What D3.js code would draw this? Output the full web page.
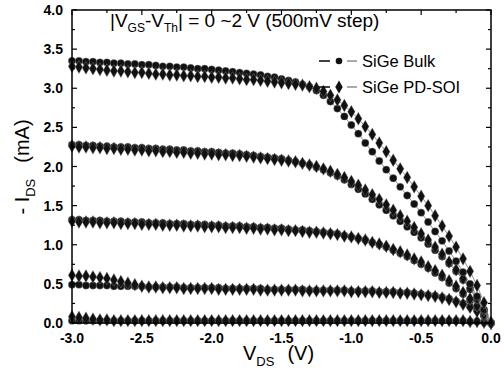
<!DOCTYPE html>
<html>
<head>
<meta charset="utf-8">
<script src="https://cdn.jsdelivr.net/npm/d3@7"></script>
<style>
  body { margin: 0; background: #fff; }
  text { font-family: Arial, "Liberation Sans", Helvetica, sans-serif; }
</style>
</head>
<body>
<script>
// drain voltage sweep (V)
const vds = [-3.00,-2.95,-2.90,-2.85,-2.80,-2.75,-2.70,-2.65,-2.60,-2.55,
  -2.50,-2.45,-2.40,-2.35,-2.30,-2.25,-2.20,-2.15,-2.10,-2.05,
  -2.00,-1.95,-1.90,-1.85,-1.80,-1.75,-1.70,-1.65,-1.60,-1.55,
  -1.50,-1.45,-1.40,-1.35,-1.30,-1.25,-1.20,-1.15,-1.10,-1.05,
  -1.00,-0.95,-0.90,-0.85,-0.80,-0.75,-0.70,-0.65,-0.60,-0.55,
  -0.50,-0.45,-0.40,-0.35,-0.30,-0.25,-0.20,-0.15,-0.10,-0.05,
  0.00];

// SiGe bulk, -IDS (mA), |VGS-Vth| = 2.0, 1.5, 1.0, 0.5, 0 V
const bulk20 = [3.35,3.35,3.34,3.34,3.33,3.33,3.32,3.32,3.31,3.31,
  3.30,3.30,3.29,3.28,3.28,3.27,3.27,3.26,3.25,3.25,
  3.24,3.23,3.22,3.21,3.20,3.19,3.18,3.17,3.15,3.14,
  3.12,3.10,3.08,3.05,3.02,2.97,2.91,2.83,2.74,2.64,
  2.53,2.42,2.30,2.19,2.07,1.96,1.85,1.74,1.63,1.52,
  1.41,1.29,1.17,1.05,0.92,0.79,0.65,0.50,0.34,0.17,
  0.00];
const bulk15 = [2.28,2.28,2.27,2.27,2.26,2.26,2.25,2.25,2.25,2.24,
  2.24,2.23,2.23,2.22,2.22,2.21,2.21,2.20,2.20,2.19,
  2.19,2.18,2.17,2.17,2.16,2.15,2.14,2.13,2.12,2.11,
  2.10,2.08,2.06,2.04,2.02,1.99,1.96,1.92,1.88,1.83,
  1.77,1.71,1.65,1.58,1.51,1.44,1.37,1.30,1.23,1.16,
  1.09,1.01,0.93,0.85,0.76,0.66,0.55,0.43,0.30,0.15,
  0.00];
const bulk10 = [1.32,1.32,1.31,1.31,1.31,1.30,1.30,1.30,1.29,1.29,
  1.29,1.28,1.28,1.28,1.27,1.27,1.27,1.26,1.26,1.26,
  1.25,1.25,1.24,1.24,1.24,1.23,1.23,1.22,1.22,1.21,
  1.21,1.20,1.19,1.19,1.18,1.17,1.16,1.15,1.14,1.12,
  1.10,1.08,1.06,1.03,1.00,0.97,0.93,0.89,0.85,0.80,
  0.75,0.70,0.64,0.58,0.51,0.44,0.37,0.29,0.20,0.10,
  0.00];
const bulk05 = [0.49,0.49,0.48,0.48,0.48,0.48,0.47,0.47,0.47,0.47,
  0.47,0.46,0.46,0.46,0.46,0.46,0.45,0.45,0.45,0.45,
  0.45,0.45,0.44,0.44,0.44,0.44,0.44,0.44,0.43,0.43,
  0.43,0.43,0.43,0.43,0.42,0.42,0.42,0.42,0.42,0.42,
  0.41,0.41,0.41,0.41,0.40,0.40,0.40,0.39,0.39,0.38,
  0.37,0.36,0.35,0.33,0.31,0.28,0.25,0.21,0.16,0.09,
  0.00];
const bulk00 = [0.03,0.03,0.03,0.03,0.03,0.03,0.03,0.03,0.03,0.03,
  0.03,0.03,0.03,0.03,0.03,0.03,0.03,0.03,0.03,0.03,
  0.03,0.03,0.03,0.03,0.03,0.03,0.03,0.03,0.03,0.03,
  0.03,0.03,0.03,0.03,0.03,0.03,0.03,0.03,0.03,0.03,
  0.03,0.03,0.03,0.03,0.03,0.03,0.03,0.03,0.03,0.03,
  0.03,0.03,0.03,0.03,0.03,0.03,0.03,0.02,0.02,0.01,
  0.00];

// SiGe PD-SOI
const soi20 = [3.28,3.27,3.26,3.25,3.24,3.23,3.22,3.22,3.21,3.20,
  3.20,3.19,3.18,3.18,3.17,3.17,3.16,3.16,3.15,3.15,
  3.14,3.14,3.13,3.13,3.12,3.11,3.11,3.10,3.09,3.08,
  3.07,3.06,3.05,3.04,3.02,3.00,2.96,2.91,2.85,2.78,
  2.70,2.61,2.51,2.41,2.30,2.19,2.08,1.97,1.86,1.74,
  1.62,1.50,1.37,1.24,1.11,0.97,0.82,0.66,0.48,0.26,
  0.00];
const soi15 = [2.26,2.25,2.25,2.24,2.24,2.23,2.23,2.22,2.22,2.21,
  2.21,2.20,2.20,2.19,2.19,2.18,2.18,2.17,2.17,2.16,
  2.16,2.15,2.15,2.14,2.14,2.13,2.12,2.11,2.10,2.09,
  2.08,2.07,2.06,2.04,2.02,2.00,1.97,1.94,1.90,1.86,
  1.81,1.76,1.70,1.64,1.58,1.51,1.44,1.37,1.30,1.22,
  1.14,1.06,0.97,0.88,0.78,0.68,0.57,0.45,0.32,0.17,
  0.00];
const soi10 = [1.30,1.29,1.29,1.29,1.28,1.28,1.28,1.27,1.27,1.27,
  1.26,1.26,1.26,1.25,1.25,1.25,1.24,1.24,1.24,1.23,
  1.23,1.23,1.22,1.22,1.22,1.21,1.21,1.20,1.20,1.19,
  1.19,1.18,1.18,1.17,1.16,1.16,1.15,1.14,1.13,1.11,
  1.10,1.08,1.06,1.03,1.01,0.98,0.94,0.91,0.87,0.82,
  0.78,0.72,0.67,0.61,0.54,0.47,0.39,0.31,0.22,0.11,
  0.00];
const soi05 = [0.61,0.60,0.60,0.59,0.58,0.57,0.55,0.53,0.51,0.49,
  0.47,0.46,0.46,0.45,0.45,0.45,0.44,0.44,0.44,0.44,
  0.44,0.43,0.43,0.43,0.43,0.43,0.43,0.42,0.42,0.42,
  0.42,0.42,0.42,0.41,0.41,0.41,0.41,0.41,0.41,0.41,
  0.40,0.40,0.40,0.40,0.39,0.39,0.39,0.38,0.38,0.37,
  0.36,0.35,0.34,0.32,0.30,0.27,0.24,0.20,0.15,0.09,
  0.00];
const soi00 = [0.08,0.07,0.06,0.05,0.04,0.04,0.03,0.03,0.03,0.03,
  0.03,0.03,0.03,0.03,0.03,0.03,0.03,0.03,0.03,0.03,
  0.03,0.03,0.03,0.03,0.03,0.03,0.03,0.03,0.03,0.03,
  0.03,0.03,0.03,0.03,0.03,0.03,0.03,0.03,0.03,0.03,
  0.03,0.03,0.03,0.03,0.03,0.03,0.03,0.03,0.03,0.03,
  0.03,0.03,0.03,0.03,0.03,0.03,0.03,0.02,0.02,0.01,
  0.00];

const xTicks = [-3.0, -2.5, -2.0, -1.5, -1.0, -0.5, 0.0];
const yTicks = [0.0, 0.5, 1.0, 1.5, 2.0, 2.5, 3.0, 3.5, 4.0];
const legendNames = ['SiGe Bulk', 'SiGe PD-SOI'];

const svgDims = { width: 504, height: 369 };
const margin = { top: 10, right: 13, bottom: 46, left: 72 };
const graphWidth = svgDims.width - margin.left - margin.right;
const graphHeight = svgDims.height - margin.top - margin.bottom;

const svg = d3.select('body').append('svg')
  .attr('width', svgDims.width)
  .attr('height', svgDims.height);

const graph = svg.append('g')
  .attr('transform', `translate(${margin.left},${margin.top})`);

const x = d3.scaleLinear().domain([-3, 0]).range([0, graphWidth]);
const y = d3.scaleLinear().domain([0, 4]).range([graphHeight, 0]);

const diamond = d3.symbol().type(d3.symbolDiamond).size(48);

const series = [
  { vals: bulk00, shape: 'circle' }, { vals: soi00, shape: 'diamond' },
  { vals: bulk05, shape: 'circle' }, { vals: soi05, shape: 'diamond' },
  { vals: bulk10, shape: 'circle' }, { vals: soi10, shape: 'diamond' },
  { vals: bulk15, shape: 'circle' }, { vals: soi15, shape: 'diamond' },
  { vals: bulk20, shape: 'circle' }, { vals: soi20, shape: 'diamond' }
];

const line = d3.line().x(d => x(d[0])).y(d => y(d[1]));

series.forEach(s => {
  const pts = vds.map((v, i) => [v, s.vals[i]]);
  graph.append('path')
    .attr('d', line(pts))
    .attr('fill', 'none')
    .attr('stroke', '#777')
    .attr('stroke-width', 0.8);
  if (s.shape === 'circle') {
    graph.append('g').selectAll('circle').data(pts).enter()
      .append('circle')
      .attr('cx', d => x(d[0]))
      .attr('cy', d => y(d[1]))
      .attr('r', 3.7)
      .attr('fill', '#111')
      .attr('stroke', '#888')
      .attr('stroke-width', 0.4);
  } else {
    graph.append('g').selectAll('path').data(pts).enter()
      .append('path')
      .attr('d', diamond)
      .attr('transform', d => `translate(${x(d[0])},${y(d[1])})`)
      .attr('fill', '#111')
      .attr('stroke', '#888')
      .attr('stroke-width', 0.4);
  }
});

// frame and inward ticks
graph.append('rect')
  .attr('width', graphWidth)
  .attr('height', graphHeight)
  .attr('fill', 'none')
  .attr('stroke', '#000')
  .attr('stroke-width', 1.5);

const yMinor = d3.range(0.25, 4, 0.5);
const xMinor = d3.range(-2.75, 0, 0.5);

const ticks = graph.append('g').attr('stroke', '#000').attr('stroke-width', 1.2);
yTicks.forEach(t => {
  ticks.append('line').attr('x1', 0).attr('x2', 5).attr('y1', y(t)).attr('y2', y(t));
  ticks.append('line').attr('x1', graphWidth).attr('x2', graphWidth - 5).attr('y1', y(t)).attr('y2', y(t));
});
yMinor.forEach(t => {
  ticks.append('line').attr('x1', 0).attr('x2', 3).attr('y1', y(t)).attr('y2', y(t));
  ticks.append('line').attr('x1', graphWidth).attr('x2', graphWidth - 3).attr('y1', y(t)).attr('y2', y(t));
});
xTicks.forEach(t => {
  ticks.append('line').attr('x1', x(t)).attr('x2', x(t)).attr('y1', graphHeight).attr('y2', graphHeight - 5);
  ticks.append('line').attr('x1', x(t)).attr('x2', x(t)).attr('y1', 0).attr('y2', 5);
});
xMinor.forEach(t => {
  ticks.append('line').attr('x1', x(t)).attr('x2', x(t)).attr('y1', graphHeight).attr('y2', graphHeight - 3);
  ticks.append('line').attr('x1', x(t)).attr('x2', x(t)).attr('y1', 0).attr('y2', 3);
});

// tick labels
graph.append('g').selectAll('text').data(yTicks).enter()
  .append('text')
  .attr('x', -9)
  .attr('y', d => y(d) + 5)
  .attr('text-anchor', 'end')
  .attr('font-size', 14)
  .attr('font-weight', 'bold')
  .text(d => d.toFixed(1));

graph.append('g').selectAll('text').data(xTicks).enter()
  .append('text')
  .attr('x', d => x(d))
  .attr('y', graphHeight + 20)
  .attr('text-anchor', 'middle')
  .attr('font-size', 14)
  .attr('font-weight', 'bold')
  .text(d => d.toFixed(1));

// axis titles
const xt = svg.append('text')
  .attr('x', 243)
  .attr('y', 360)
  .attr('font-size', 20);
xt.append('tspan').text('V');
xt.append('tspan').attr('font-size', 13).attr('dy', 6).text('DS');
xt.append('tspan').attr('dy', -6).attr('dx', 13).text('(V)');

const yt = svg.append('text')
  .attr('transform', 'translate(29,167) rotate(-90)')
  .attr('text-anchor', 'middle')
  .attr('font-size', 20);
yt.append('tspan').text('-  I');
yt.append('tspan').attr('font-size', 13).attr('dy', 6).text('DS');
yt.append('tspan').attr('dy', -6).attr('dx', 16).text('(mA)');

// condition note
const note = svg.append('text')
  .attr('x', 110)
  .attr('y', 27)
  .attr('font-size', 19);
note.append('tspan').text('|V');
note.append('tspan').attr('font-size', 12).attr('dy', 5).text('GS');
note.append('tspan').attr('dy', -5).text('-V');
note.append('tspan').attr('font-size', 12).attr('dy', 5).text('Th');
note.append('tspan').attr('dy', -5).text('| = 0 ~2 V (500mV step)');

// legend
const legend = svg.append('g');
legendNames.forEach((name, i) => {
  const ly = 61 + i * 26;
  const row = legend.append('g');
  row.append('line').attr('x1', 319).attr('x2', 330).attr('y1', ly).attr('y2', ly)
    .attr('stroke', '#000').attr('stroke-width', 1.5);
  row.append('line').attr('x1', 347).attr('x2', 357).attr('y1', ly).attr('y2', ly)
    .attr('stroke', '#555').attr('stroke-width', 1);
  if (i === 0) {
    row.append('circle').attr('cx', 339).attr('cy', ly).attr('r', 3.3).attr('fill', '#111');
  } else {
    row.append('path').attr('d', diamond).attr('transform', `translate(339,${ly})`).attr('fill', '#111');
  }
  row.append('text')
    .attr('x', 362)
    .attr('y', ly + 6)
    .attr('font-size', 16.5)
    .text(name);
});
</script>
</body>
</html>
